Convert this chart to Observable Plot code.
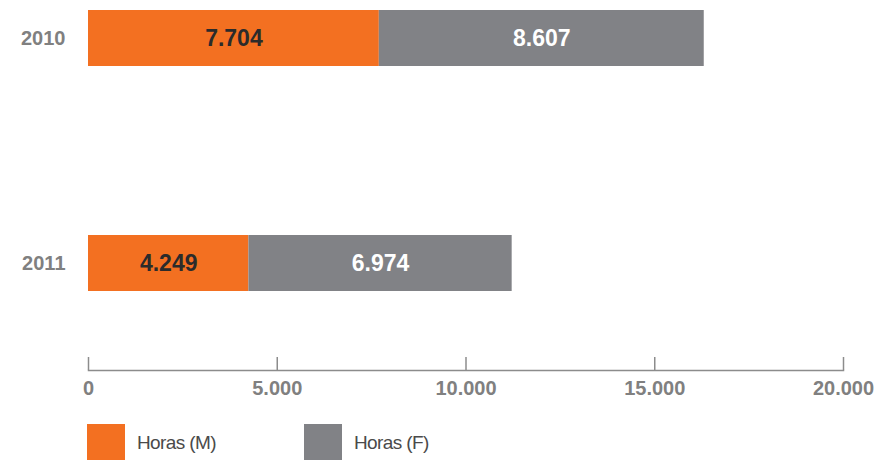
<!DOCTYPE html>
<html><head><meta charset="utf-8">
<script src="https://cdn.jsdelivr.net/npm/d3@7"></script>
<script src="https://cdn.jsdelivr.net/npm/@observablehq/plot@0.6"></script>
<style>
body{margin:0;background:#fff;font-family:"Liberation Sans",Arial,sans-serif;}
#chart svg{display:block;}
</style></head><body><div id="chart"></div>
<script>
const years = ["2010", "2011"];
const horasM = [7704, 4249];
const horasF = [8607, 6974];
const seriesNames = ["Horas (M)", "Horas (F)"];
const seriesColors = ["#F37021", "#818286"];
const labelColors = ["#2b2b2b", "#ffffff"];
const xTicks = [0, 5000, 10000, 15000, 20000];

const rows = [];
years.forEach((y, i) => {
  rows.push({year: y, s: 0, value: horasM[i]});
  rows.push({year: y, s: 1, value: horasF[i]});
});

const fmt = d3.formatLocale({decimal: ",", thousands: ".", grouping: [3], currency: ["", ""]}).format(",d");
const font = '"Liberation Sans", Arial, sans-serif';

const plot = Plot.plot({
  width: 883, height: 410,
  marginLeft: 88, marginRight: 40, marginTop: 0, marginBottom: 40,
  style: {fontFamily: font, background: "#fff"},
  x: {domain: [0, 20000], label: null},
  y: {domain: years, range: [9, 291.7], paddingInner: 0.749, paddingOuter: 0, label: null},
  marks: [
    Plot.barX(rows, Plot.stackX({x: "value", y: "year", z: "s", fill: d => seriesColors[d.s]})),
    Plot.text(rows, Plot.stackX({x: "value", y: "year", z: "s", text: d => fmt(d.value),
      fill: d => labelColors[d.s], fontSize: 23, fontWeight: "bold"})),
    Plot.frame({anchor: "bottom", stroke: "#8c8c8c", strokeWidth: 1.5}),
    Plot.ruleX(xTicks, {x: d => d, insetTop: 357, stroke: "#8c8c8c", strokeWidth: 1.5}),
    Plot.axisX({ticks: xTicks, tickSize: 0, tickPadding: 10, tickFormat: fmt, label: null,
      fill: "#808080", fontSize: 20, fontWeight: "bold"}),
    Plot.axisY({tickSize: 0, tickPadding: 23, label: null, fill: "#808080", fontSize: 20, fontWeight: "bold"})
  ]
});
document.getElementById("chart").appendChild(plot);

// legend below
const leg = d3.select("#chart").append("svg").attr("width", 883).attr("height", 50)
  .style("font-family", font);
const legX = [87, 304];
seriesNames.forEach((name, i) => {
  const g = leg.append("g").attr("transform", `translate(${legX[i]},0)`);
  g.append("rect").attr("x", 0).attr("y", 14).attr("width", 38).attr("height", 38).attr("fill", seriesColors[i]);
  g.append("text").attr("x", 50).attr("y", 39).attr("font-size", 19).attr("letter-spacing", -0.6)
    .attr("fill", "#4a4a4a").text(name);
});
</script></body></html>
